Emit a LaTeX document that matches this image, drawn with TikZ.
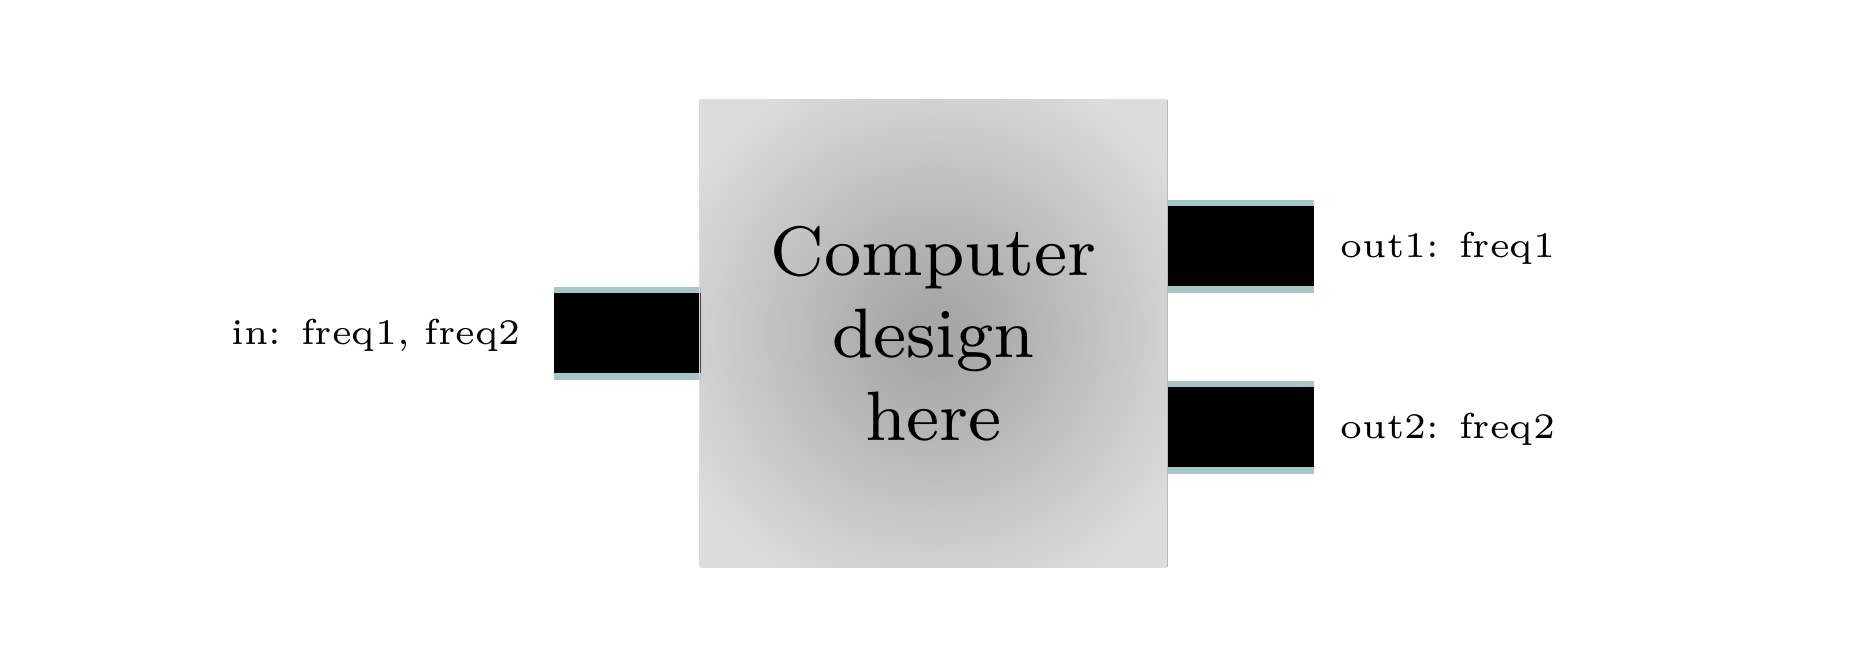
\documentclass[tikz,border=0pt]{standalone}
\usepackage{fontspec}
\newfontfamily\labelfont{lmroman6-regular.otf}
\newfontfamily\bigfont{lmroman8-regular.otf}
\definecolor{portteal}{HTML}{A6C7C6}
\definecolor{boxlight}{HTML}{DDDDDD}
\definecolor{boxdark}{HTML}{A6A6A6}
\pgfdeclareradialshading{boxrad}{\pgfpoint{0bp}{0bp}}{color(0bp)=(boxdark); color(4bp)=(boxdark!96!boxlight); color(31bp)=(boxlight); color(50bp)=(boxlight)}
\tikzset{
  portbox/.style={rectangle, fill=portteal, minimum width=73.5pt, minimum height=46.5pt, inner sep=0pt,
    path picture={\fill[black] ([yshift=-3.25pt]path picture bounding box.north west) rectangle ([yshift=3.25pt]path picture bounding box.south east);}},
  portlabel/.style={font=\labelfont\fontsize{18}{21}\selectfont, inner sep=0pt},
  cpubox/.style={rectangle, shading=boxrad, minimum width=233.5pt, minimum height=233.5pt, inner sep=0pt, align=center,
    font=\bigfont\fontsize{35}{41.25}\selectfont}
}
\begin{document}
\begin{tikzpicture}[x=0.5pt,y=-0.5pt]
\useasboundingbox[fill=white] (0,0) rectangle (1867,667);
\node[cpubox] (cpu) at (933.5,333.5) {Computer\\design\\here};
\node[portbox] (inport) at (627,333.5) {};
\node[portbox] (outa) at (1240.5,246.5) {};
\node[portbox] (outb) at (1240.5,427.5) {};
\draw[gray!55, line width=0.4pt] (cpu.north east) -- (cpu.south east);
\draw[gray!30, line width=0.4pt] (cpu.north west) -- (cpu.south west);
\node[portlabel, anchor=mid east] (inlabel) at ([xshift=-16pt,yshift=-3.5pt]inport.west) {in: freq1, freq2};
\node[portlabel, anchor=mid west] (outalabel) at ([xshift=13pt,yshift=-3.5pt]outa.east) {out1: freq1};
\node[portlabel, anchor=mid west] (outblabel) at ([xshift=13pt,yshift=-3.5pt]outb.east) {out2: freq2};
\end{tikzpicture}
\end{document}
